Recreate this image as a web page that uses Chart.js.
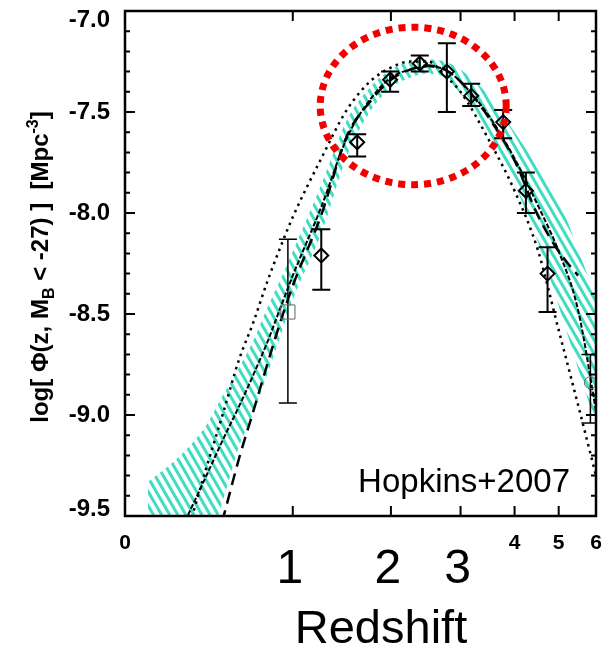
<!DOCTYPE html>
<html>
<head>
<meta charset="utf-8">
<script src="https://cdn.jsdelivr.net/npm/chart.js@4.4.1/dist/chart.umd.min.js"></script>
<style>
  html, body { margin: 0; padding: 0; background: #fff; }
  #wrap { width: 607px; height: 647px; position: relative; }
</style>
</head>
<body>
<div id="wrap"><canvas id="lfChart"></canvas></div>
<script>
// axis ticks (redshift, drawn on a log(1+z) axis)
const zTicks = [0, 1, 2, 3, 4, 5, 6];
const zTickLabels = ['0', '', '', '', '4', '5', '6'];
const bigTickZ = [1, 2, 3];
const phiTicks = [-9.5, -9.0, -8.5, -8.0, -7.5, -7.0];

// model curves, sampled at these redshifts
const curveZ = [0.1, 0.2, 0.3, 0.4, 0.5, 0.6, 0.7, 0.8, 0.9, 1.0, 1.25, 1.5, 1.75, 2.0, 2.25, 2.5, 2.75, 3.0, 3.5, 4.0, 4.5, 5.0, 5.5, 6.0];
const fitCurve = [-9.90, -9.69, -9.49, -9.30, -9.12, -8.96, -8.80, -8.64, -8.47, -8.31, -7.97, -7.63, -7.44, -7.33, -7.29, -7.275, -7.29, -7.35, -7.52, -7.73, -7.96, -8.19, -8.48, -8.98];
const dashedCurve = [null, null, null, -9.80, -9.51, -9.22, -8.98, -8.75, -8.54, -8.36, -8.01, -7.62, -7.45, -7.34, -7.29, -7.27, -7.29, -7.35, -7.53, -7.74, -8.01, -8.19, -8.31, null];
const dottedCurve = [-10.2, -9.85, -9.56, -9.26, -8.99, -8.73, -8.54, -8.34, -8.17, -8.02, -7.73, -7.49, -7.35, -7.28, -7.25, -7.25, -7.32, -7.40, -7.64, -7.89, -8.18, -8.58, -8.95, -9.30];
const bandUpper = [-9.33, -9.25, -9.16, -9.05, -8.90, -8.77, -8.63, -8.47, -8.33, -8.19, -7.86, -7.54, -7.38, -7.29, -7.25, -7.24, -7.25, -7.29, -7.42, -7.60, -7.77, -7.94, -8.18, -8.43];
const bandLower = [-10.5, -10.2, -9.93, -9.67, -9.42, -9.16, -8.99, -8.80, -8.61, -8.43, -8.10, -7.72, -7.50, -7.38, -7.33, -7.31, -7.33, -7.41, -7.61, -7.86, -8.14, -8.46, -8.77, -9.05];

// binned data with error bars
const obsZ = [0.96, 1.25, 1.61, 1.99, 2.38, 2.78, 3.18, 3.77, 4.24, 4.73, 5.84];
const obsPhi = [-8.49, -8.21, -7.65, -7.34, -7.26, -7.30, -7.42, -7.55, -7.89, -8.30, -8.84];
const obsHi = [-8.13, -8.08, -7.61, -7.30, -7.22, -7.16, -7.36, -7.49, -7.80, -8.17, -8.70];
const obsLo = [-8.94, -8.38, -7.72, -7.40, -7.30, -7.50, -7.47, -7.63, -8.00, -8.49, -9.04];
const obsKind = ['square', 'diamond', 'diamond', 'diamond', 'diamond', 'diamond', 'diamond', 'diamond', 'diamond', 'diamond', 'circle'];

// red dotted ring around the peak (box it is inscribed in)
const ringZ = [1.24, 3.83];
const ringPhi = [-7.08, -7.86];

const FONT = 'Liberation Sans, Arial, Helvetica, sans-serif';
const lx = z => Math.log10(1 + z);
const toXY = (zs, ys) => zs.map((z, i) => ({ x: lx(z), y: ys[i] }));

function makeHatch(ctx) {
    const c = document.createElement('canvas');
    c.width = 7;
    c.height = 1;
    const g = c.getContext('2d');
    g.fillStyle = '#3fdcc4';
    g.fillRect(0, 0, 3, 1);
    const p = ctx.createPattern(c, 'repeat');
    p.setTransform(new DOMMatrix().rotate(-30));
    return p;
}

function drawRich(ctx, parts, cx, cy) {
    // text rotated to read bottom-to-top, centred on (cx, cy)
    let total = 0;
    parts.forEach(p => {
        ctx.font = p.font;
        p.w = ctx.measureText(p.t).width;
        total += p.w;
    });
    ctx.save();
    ctx.translate(cx, cy);
    ctx.rotate(-Math.PI / 2);
    ctx.textAlign = 'left';
    ctx.textBaseline = 'alphabetic';
    ctx.fillStyle = '#000';
    let pos = -total / 2;
    parts.forEach(p => {
        ctx.font = p.font;
        ctx.fillText(p.t, pos, p.dy || 0);
        pos += p.w;
    });
    ctx.restore();
}

const decor = {
    id: 'decor',
    beforeDatasetDraw(chart, args) {
        if (args.index !== 0) return;
        const { ctx, chartArea: a, scales: { x, y } } = chart;
        ctx.save();
        ctx.beginPath();
        ctx.rect(a.left, a.top, a.right - a.left, a.bottom - a.top);
        ctx.clip();
        ctx.strokeStyle = '#000';
        obsZ.forEach((z, i) => {
            const px = x.getPixelForValue(lx(z));
            const top = y.getPixelForValue(obsHi[i]);
            const bot = y.getPixelForValue(obsLo[i]);
            ctx.lineWidth = obsKind[i] === 'diamond' ? 2 : 1.5;
            ctx.beginPath();
            ctx.moveTo(px, top);
            ctx.lineTo(px, bot);
            ctx.moveTo(px - 9, top);
            ctx.lineTo(px + 9, top);
            ctx.moveTo(px - 9, bot);
            ctx.lineTo(px + 9, bot);
            ctx.stroke();
        });
        ctx.restore();
    },
    afterDatasetsDraw(chart) {
        const { ctx, chartArea: a, scales: { x, y } } = chart;
        ctx.save();
        // frame
        ctx.strokeStyle = '#000';
        ctx.lineWidth = 2.5;
        ctx.strokeRect(a.left, a.top, a.right - a.left, a.bottom - a.top);
        // inward ticks
        ctx.lineWidth = 2;
        ctx.beginPath();
        for (let i = 0; i <= 25; i++) {
            const py = y.getPixelForValue(-9.5 + i * 0.1);
            const len = i % 5 === 0 ? 10 : 5;
            ctx.moveTo(a.left, py);
            ctx.lineTo(a.left + len, py);
            ctx.moveTo(a.right, py);
            ctx.lineTo(a.right - len, py);
        }
        zTicks.forEach(z => {
            const px = x.getPixelForValue(lx(z));
            ctx.moveTo(px, a.bottom);
            ctx.lineTo(px, a.bottom - 10);
            ctx.moveTo(px, a.top);
            ctx.lineTo(px, a.top + 10);
        });
        ctx.stroke();
        // red dotted ring
        const x0 = x.getPixelForValue(lx(ringZ[0]));
        const x1 = x.getPixelForValue(lx(ringZ[1]));
        const y0 = y.getPixelForValue(ringPhi[0]);
        const y1 = y.getPixelForValue(ringPhi[1]);
        ctx.strokeStyle = '#f20000';
        ctx.lineWidth = 7;
        ctx.setLineDash([7, 6]);
        ctx.beginPath();
        ctx.ellipse((x0 + x1) / 2, (y0 + y1) / 2, (x1 - x0) / 2, (y1 - y0) / 2, 0, 0, Math.PI * 2);
        ctx.stroke();
        ctx.restore();
    },
    afterDraw(chart) {
        const { ctx, chartArea: a, scales: { x } } = chart;
        ctx.save();
        ctx.fillStyle = '#000';
        ctx.textAlign = 'center';
        ctx.textBaseline = 'alphabetic';
        ctx.font = '48px ' + FONT;
        bigTickZ.forEach(z => {
            ctx.fillText(String(z), x.getPixelForValue(lx(z)) - 3, a.bottom + 67);
        });
        ctx.font = '47px ' + FONT;
        ctx.fillText('Redshift', a.left + 256, a.bottom + 127);
        ctx.textAlign = 'right';
        ctx.font = '33px ' + FONT;
        ctx.fillText('Hopkins+2007', a.right - 26, a.bottom - 24);
        ctx.restore();

        const big = 'bold 24px ' + FONT;
        const small = 'bold 16px ' + FONT;
        drawRich(ctx, [
            { t: 'log[ \u03A6(z, M', font: big },
            { t: 'B', font: small, dy: 6 },
            { t: ' < -27) ]  [Mpc', font: big },
            { t: '-3', font: small, dy: -10 },
            { t: ']', font: big }
        ], 48, 267);
    }
};

const ctx = document.getElementById('lfChart').getContext('2d');
const hatch = makeHatch(ctx);

const lineBase = {
    type: 'line',
    pointRadius: 0,
    fill: false,
    borderColor: '#000',
    cubicInterpolationMode: 'monotone'
};

new Chart(ctx, {
    data: {
        datasets: [{
            type: 'scatter',
            label: 'binned QLF',
            data: toXY(obsZ, obsPhi),
            showLine: false,
            pointStyle: obsKind.map(k => k === 'square' ? 'rect' : k === 'circle' ? 'circle' : 'rectRot'),
            pointRadius: obsKind.map(k => k === 'square' ? 10 : k === 'circle' ? 6 : 7),
            pointBorderColor: obsKind.map(k => k === 'diamond' ? '#000' : '#666'),
            pointBorderWidth: obsKind.map(k => k === 'diamond' ? 2 : 1),
            pointBackgroundColor: 'rgba(0,0,0,0)',
            order: 0
        }, {
            ...lineBase,
            label: 'fit',
            data: toXY(curveZ, fitCurve),
            borderWidth: 2,
            borderDash: [5, 2],
            order: 1
        }, {
            ...lineBase,
            label: 'dashed model',
            data: toXY(curveZ, dashedCurve),
            borderWidth: 2.5,
            borderDash: [12, 7],
            order: 2
        }, {
            ...lineBase,
            label: 'dotted model',
            data: toXY(curveZ, dottedCurve),
            borderWidth: 2.5,
            borderDash: [2.5, 4.5],
            order: 3
        }, {
            ...lineBase,
            label: 'band upper',
            data: toXY(curveZ, bandUpper),
            borderWidth: 0,
            borderColor: 'rgba(0,0,0,0)',
            backgroundColor: hatch,
            fill: '+1',
            order: 4
        }, {
            ...lineBase,
            label: 'band lower',
            data: toXY(curveZ, bandLower),
            borderWidth: 0,
            borderColor: 'rgba(0,0,0,0)',
            order: 5
        }]
    },
    options: {
        responsive: true,
        maintainAspectRatio: false,
        animation: false,
        layout: { padding: { top: 11, right: 6, left: 0, bottom: 0 } },
        plugins: { legend: { display: false }, tooltip: { enabled: false } },
        scales: {
            x: {
                type: 'linear',
                min: 0,
                max: lx(6),
                grid: { display: false },
                border: { display: false },
                afterBuildTicks: scale => {
                    scale.ticks = zTicks.map(z => ({ value: lx(z) }));
                },
                afterFit: scale => {
                    scale.height = 131;
                    scale.paddingLeft = 0;
                    scale.paddingRight = 0;
                },
                ticks: {
                    autoSkip: false,
                    maxRotation: 0,
                    padding: 7,
                    color: '#000',
                    font: { family: FONT, size: 21, weight: 'bold' },
                    callback: (v, i) => zTickLabels[i]
                }
            },
            y: {
                min: -9.5,
                max: -7.0,
                grid: { display: false },
                border: { display: false },
                afterBuildTicks: scale => {
                    scale.ticks = phiTicks.map(v => ({ value: v }));
                },
                afterFit: scale => {
                    scale.width = 125;
                    scale.paddingTop = 0;
                    scale.paddingBottom = 0;
                },
                ticks: {
                    padding: 7,
                    color: '#000',
                    font: c => ({
                        family: FONT,
                        size: 24,
                        weight: 'bold',
                        lineHeight: c.index === 0 ? '13px' : c.index === phiTicks.length - 1 ? '18px' : 1.2
                    }),
                    // end labels sit a little inside the frame
                    callback: (v, i) => {
                        const s = v.toFixed(1);
                        if (i === 0) return [s, ''];
                        if (i === phiTicks.length - 1) return ['', s];
                        return s;
                    }
                }
            }
        }
    },
    plugins: [decor]
});
</script>
</body>
</html>
